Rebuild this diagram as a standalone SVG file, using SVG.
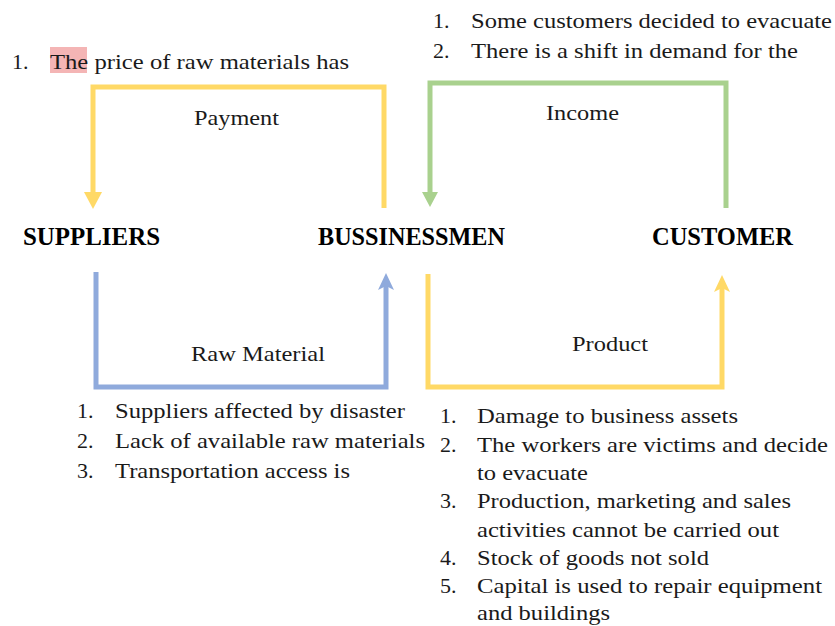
<svg xmlns="http://www.w3.org/2000/svg" width="835" height="626" viewBox="0 0 835 626">
<style>
.t{font-family:"Liberation Serif","Times New Roman",serif;font-size:22px;fill:#1a1a1a}
.h{font-family:"Liberation Serif","Times New Roman",serif;font-size:25px;font-weight:bold;fill:#000}
.y{fill:none;stroke:#ffd966;stroke-width:5}
.g{fill:none;stroke:#a9d18e;stroke-width:5}
.b{fill:none;stroke:#8faadc;stroke-width:5}
</style>
<rect width="835" height="626" fill="#fff"/>
<g id="connectors">
<path class="y" d="M384,208 V87 H93 V195"/>
<polygon points="84,192 102,192 93,209" fill="#ffd966"/>
<path class="g" d="M726,208 V83 H430 V195"/>
<polygon points="422,192 438,192 430,207" fill="#a9d18e"/>
<path class="b" d="M96,272 V387 H386 V285"/>
<polygon points="378,290 386,273 394,290 386,286" fill="#8faadc"/>
<path class="y" d="M428,274 V387 H722 V287"/>
<polygon points="714,292 722,275 730,292 722,288" fill="#ffd966"/>
<text class="t" x="194" y="125" textLength="85" lengthAdjust="spacingAndGlyphs">Payment</text>
<text class="t" x="546" y="120" textLength="73" lengthAdjust="spacingAndGlyphs">Income</text>
<text class="t" x="191" y="361" textLength="134" lengthAdjust="spacingAndGlyphs">Raw Material</text>
<text class="t" x="572" y="351" textLength="76" lengthAdjust="spacingAndGlyphs">Product</text>
</g>
<g id="suppliers"><text class="h" x="23" y="245" textLength="137" lengthAdjust="spacingAndGlyphs">SUPPLIERS</text></g>
<g id="bussinessmen"><text class="h" x="318" y="245" textLength="187" lengthAdjust="spacingAndGlyphs">BUSSINESSMEN</text></g>
<g id="customer"><text class="h" x="652" y="245" textLength="141" lengthAdjust="spacingAndGlyphs">CUSTOMER</text></g>
<g id="supplier-notes">
<rect x="50" y="47" width="37" height="26" fill="#f4b5b5"/>
<text class="t" x="12" y="69">1.</text>
<text class="t" x="50" y="69" textLength="299" lengthAdjust="spacingAndGlyphs">The price of raw materials has</text>
</g>
<g id="customer-notes">
<text class="t" x="433" y="28">1.</text>
<text class="t" x="471" y="28" textLength="361" lengthAdjust="spacingAndGlyphs">Some customers decided to evacuate</text>
<text class="t" x="433" y="58">2.</text>
<text class="t" x="471" y="58" textLength="327" lengthAdjust="spacingAndGlyphs">There is a shift in demand for the</text>
</g>
<g id="raw-material-notes">
<text class="t" x="77" y="418">1.</text>
<text class="t" x="115" y="418" textLength="290" lengthAdjust="spacingAndGlyphs">Suppliers affected by disaster</text>
<text class="t" x="77" y="448">2.</text>
<text class="t" x="115" y="448" textLength="310" lengthAdjust="spacingAndGlyphs">Lack of available raw materials</text>
<text class="t" x="77" y="478">3.</text>
<text class="t" x="115" y="478" textLength="235" lengthAdjust="spacingAndGlyphs">Transportation access is</text>
</g>
<g id="product-notes">
<text class="t" x="440" y="423">1.</text>
<text class="t" x="477" y="423" textLength="261" lengthAdjust="spacingAndGlyphs">Damage to business assets</text>
<text class="t" x="440" y="452">2.</text>
<text class="t" x="477" y="452" textLength="351" lengthAdjust="spacingAndGlyphs">The workers are victims and decide</text>
<text class="t" x="477" y="480" textLength="111" lengthAdjust="spacingAndGlyphs">to evacuate</text>
<text class="t" x="440" y="508">3.</text>
<text class="t" x="477" y="508" textLength="314" lengthAdjust="spacingAndGlyphs">Production, marketing and sales</text>
<text class="t" x="477" y="537" textLength="302" lengthAdjust="spacingAndGlyphs">activities cannot be carried out</text>
<text class="t" x="440" y="565">4.</text>
<text class="t" x="477" y="565" textLength="232" lengthAdjust="spacingAndGlyphs">Stock of goods not sold</text>
<text class="t" x="440" y="593">5.</text>
<text class="t" x="477" y="593" textLength="345" lengthAdjust="spacingAndGlyphs">Capital is used to repair equipment</text>
<text class="t" x="477" y="620" textLength="133" lengthAdjust="spacingAndGlyphs">and buildings</text>
</g>
</svg>
